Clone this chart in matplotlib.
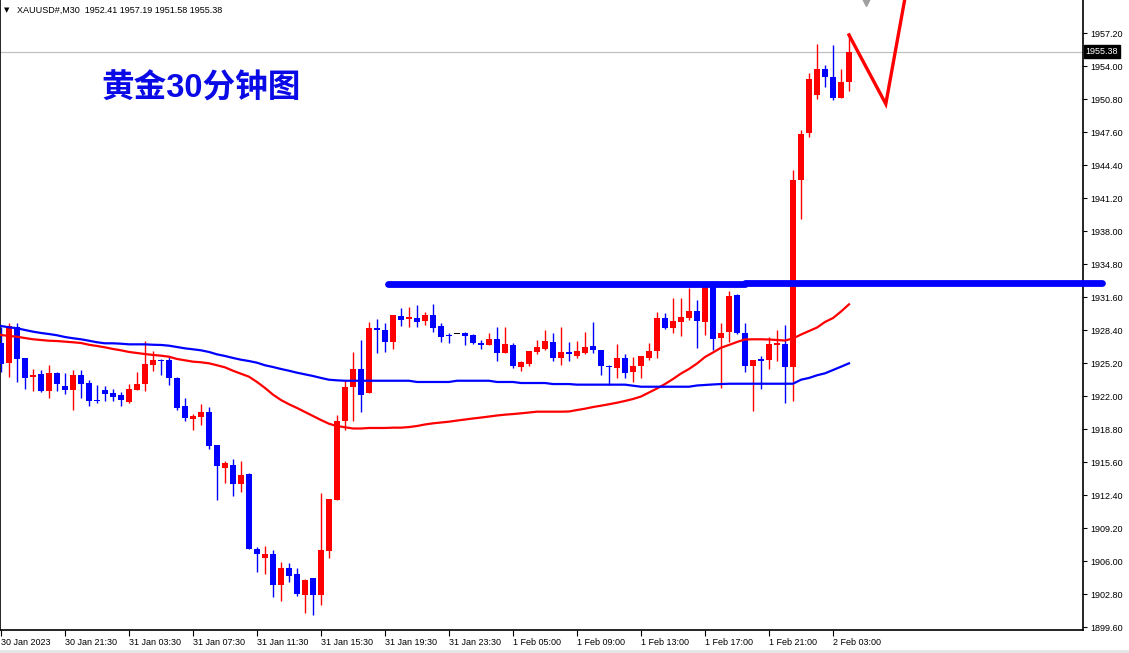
import numpy as np
import matplotlib.pyplot as plt
from matplotlib.patches import Rectangle

plt.rcParams['font.family'] = ['Liberation Sans', 'DejaVu Sans']

# XAUUSD M30 candles
opens = [1927.14, 1925.20, 1928.69, 1925.69, 1923.84, 1924.13, 1922.49, 1924.23, 1922.97, 1922.58,
         1924.04, 1923.26, 1921.61, 1922.58, 1922.29, 1922.10, 1921.42, 1922.58, 1923.16, 1925.01,
         1925.49, 1925.49, 1923.75, 1921.03, 1919.77, 1919.96, 1920.45, 1917.25, 1915.02, 1915.31,
         1913.47, 1914.44, 1907.16, 1906.29, 1906.68, 1903.67, 1905.32, 1904.74, 1902.70, 1904.35,
         1902.70, 1906.97, 1911.92, 1919.58, 1922.87, 1924.62, 1922.29, 1928.59, 1928.40, 1927.24,
         1929.76, 1929.47, 1929.56, 1929.27, 1929.85, 1928.79, 1927.92, 1928.01, 1928.11, 1927.92,
         1927.14, 1926.95, 1927.53, 1926.17, 1926.95, 1924.81, 1925.10, 1926.27, 1926.56, 1927.24,
         1925.69, 1926.27, 1925.88, 1926.17, 1926.85, 1926.46, 1924.91, 1924.72, 1925.69, 1924.33,
         1924.91, 1925.69, 1926.36, 1929.56, 1928.59, 1929.18, 1929.56, 1930.24, 1929.18, 1932.57,
         1927.62, 1928.21, 1931.79, 1928.11, 1924.91, 1925.59, 1925.49, 1926.95, 1927.04, 1924.81,
         1942.95, 1947.50, 1951.19, 1953.71, 1952.93, 1950.90, 1952.41]
highs = [1928.69, 1929.08, 1929.08, 1925.69, 1924.62, 1924.52, 1925.01, 1924.33, 1924.23, 1924.52,
         1924.52, 1923.55, 1923.07, 1922.97, 1922.68, 1922.39, 1923.16, 1924.33, 1927.33, 1926.36,
         1925.59, 1925.78, 1923.84, 1921.81, 1920.25, 1921.22, 1920.93, 1917.25, 1915.70, 1915.89,
         1915.70, 1914.53, 1907.36, 1907.45, 1907.07, 1905.90, 1905.81, 1905.32, 1904.25, 1904.35,
         1912.59, 1912.01, 1920.16, 1923.55, 1926.27, 1927.43, 1929.18, 1929.47, 1929.08, 1929.85,
         1930.53, 1930.63, 1930.82, 1930.15, 1930.92, 1929.08, 1928.11, 1928.01, 1928.21, 1928.01,
         1927.43, 1928.11, 1928.69, 1928.69, 1927.14, 1925.39, 1926.36, 1927.43, 1928.40, 1928.11,
         1928.69, 1927.24, 1927.33, 1928.21, 1929.18, 1926.46, 1925.01, 1927.04, 1926.07, 1925.78,
         1925.88, 1927.14, 1930.15, 1930.05, 1931.50, 1931.50, 1932.47, 1931.31, 1932.96, 1932.96,
         1929.08, 1932.18, 1931.89, 1929.08, 1925.49, 1925.88, 1927.72, 1928.40, 1928.89, 1943.92,
         1947.79, 1953.32, 1956.13, 1954.10, 1956.04, 1953.71, 1957.19]
lows = [1924.33, 1923.84, 1923.36, 1922.68, 1922.49, 1922.39, 1921.81, 1922.49, 1922.19, 1920.64,
        1921.81, 1921.03, 1921.32, 1921.52, 1921.52, 1921.03, 1921.32, 1922.58, 1922.49, 1924.42,
        1924.04, 1923.07, 1920.64, 1919.58, 1918.70, 1919.19, 1916.86, 1911.92, 1913.56, 1912.30,
        1912.69, 1907.16, 1904.93, 1904.74, 1902.51, 1902.12, 1903.96, 1902.61, 1900.96, 1900.76,
        1901.73, 1906.29, 1911.92, 1918.70, 1919.58, 1920.45, 1922.29, 1926.17, 1926.27, 1926.56,
        1928.79, 1928.69, 1928.69, 1928.89, 1928.21, 1927.24, 1927.14, 1928.01, 1926.95, 1927.04,
        1926.56, 1926.95, 1925.39, 1926.17, 1924.72, 1924.42, 1924.91, 1926.07, 1926.46, 1925.39,
        1925.01, 1925.39, 1925.69, 1926.07, 1926.17, 1924.04, 1923.07, 1923.75, 1923.75, 1923.36,
        1923.75, 1925.49, 1925.69, 1928.50, 1928.11, 1927.82, 1929.37, 1926.65, 1927.92, 1926.46,
        1922.78, 1927.24, 1928.01, 1924.33, 1920.55, 1922.68, 1924.62, 1925.39, 1921.32, 1921.52,
        1939.16, 1947.12, 1950.80, 1951.96, 1950.70, 1950.90, 1951.58]
closes = [1925.10, 1928.79, 1925.59, 1923.75, 1924.04, 1922.49, 1924.23, 1923.16, 1922.58, 1924.04,
          1923.16, 1921.52, 1921.52, 1922.19, 1921.90, 1921.61, 1922.68, 1923.16, 1925.10, 1925.49,
          1925.39, 1923.75, 1920.84, 1919.87, 1920.06, 1920.45, 1917.15, 1915.21, 1915.50, 1913.47,
          1914.34, 1907.16, 1906.68, 1906.68, 1903.67, 1905.32, 1904.55, 1902.80, 1904.16, 1902.70,
          1907.07, 1912.01, 1919.58, 1922.87, 1924.62, 1922.10, 1928.59, 1928.40, 1927.24, 1929.85,
          1929.37, 1929.66, 1929.18, 1929.85, 1928.59, 1927.72, 1927.82, 1928.01, 1927.82, 1927.14,
          1926.95, 1927.53, 1926.17, 1927.04, 1924.91, 1925.30, 1926.36, 1926.75, 1927.33, 1925.69,
          1926.27, 1926.07, 1926.36, 1926.75, 1926.46, 1924.91, 1924.81, 1925.69, 1924.23, 1924.91,
          1925.88, 1926.36, 1929.56, 1928.59, 1929.27, 1929.66, 1930.24, 1929.27, 1932.57, 1927.53,
          1928.11, 1931.70, 1928.11, 1924.91, 1925.49, 1925.39, 1927.04, 1927.14, 1924.81, 1942.95,
          1947.41, 1952.74, 1953.71, 1952.93, 1950.90, 1952.45, 1955.38]

ma_red = [1927.92, 1927.82, 1927.75, 1927.62, 1927.50, 1927.43, 1927.36, 1927.33, 1927.27, 1927.21,
          1927.14, 1926.97, 1926.85, 1926.72, 1926.56, 1926.43, 1926.27, 1926.17, 1926.07, 1925.98,
          1925.91, 1925.81, 1925.59, 1925.46, 1925.33, 1925.27, 1925.17, 1924.98, 1924.78, 1924.45,
          1924.16, 1923.87, 1923.36, 1922.78, 1922.13, 1921.61, 1921.20, 1920.84, 1920.45, 1920.06,
          1919.67, 1919.31, 1919.09, 1918.97, 1918.85, 1918.85, 1918.90, 1918.90, 1918.90, 1918.93,
          1918.93, 1918.99, 1919.09, 1919.24, 1919.35, 1919.43, 1919.51, 1919.62, 1919.72, 1919.82,
          1919.91, 1920.01, 1920.11, 1920.19, 1920.25, 1920.32, 1920.40, 1920.48, 1920.48, 1920.48,
          1920.48, 1920.50, 1920.64, 1920.77, 1920.93, 1921.06, 1921.20, 1921.35, 1921.52, 1921.71,
          1921.95, 1922.34, 1922.73, 1923.16, 1923.65, 1924.18, 1924.62, 1925.15, 1925.78, 1926.22,
          1926.68, 1926.95, 1927.24, 1927.48, 1927.50, 1927.50, 1927.48, 1927.43, 1927.38, 1927.58,
          1927.96, 1928.30, 1928.64, 1929.18, 1929.56, 1930.19, 1930.89]
ma_blue = [1928.79, 1928.66, 1928.57, 1928.40, 1928.24, 1928.11, 1928.01, 1927.89, 1927.72, 1927.60,
           1927.50, 1927.36, 1927.21, 1927.11, 1927.11, 1927.07, 1927.01, 1927.01, 1927.01, 1926.97,
           1926.95, 1926.88, 1926.75, 1926.62, 1926.53, 1926.43, 1926.27, 1926.04, 1925.88, 1925.69,
           1925.52, 1925.39, 1925.23, 1924.98, 1924.81, 1924.62, 1924.45, 1924.26, 1924.10, 1923.94,
           1923.75, 1923.58, 1923.52, 1923.48, 1923.48, 1923.48, 1923.48, 1923.48, 1923.48, 1923.48,
           1923.48, 1923.48, 1923.36, 1923.36, 1923.36, 1923.36, 1923.36, 1923.48, 1923.48, 1923.48,
           1923.48, 1923.48, 1923.36, 1923.36, 1923.36, 1923.26, 1923.26, 1923.26, 1923.26, 1923.16,
           1923.16, 1923.16, 1923.10, 1923.10, 1923.10, 1923.10, 1923.10, 1923.10, 1923.10, 1923.00,
           1922.90, 1922.90, 1922.90, 1922.90, 1922.90, 1922.90, 1922.90, 1923.02, 1923.07, 1923.12,
           1923.16, 1923.19, 1923.19, 1923.19, 1923.19, 1923.19, 1923.19, 1923.19, 1923.19, 1923.19,
           1923.58, 1923.75, 1924.01, 1924.20, 1924.52, 1924.84, 1925.17]

date_labels = ['30 Jan 2023', '30 Jan 21:30', '31 Jan 03:30', '31 Jan 07:30', '31 Jan 11:30',
               '31 Jan 15:30', '31 Jan 19:30', '31 Jan 23:30', '1 Feb 05:00', '1 Feb 09:00',
               '1 Feb 13:00', '1 Feb 17:00', '1 Feb 21:00', '2 Feb 03:00']

# hand-drawn annotations (bar index, price)
level_line = [(48.4, 93.0, 1932.83), (93.0, 137.6, 1932.93)]
arrow_pts = [(106.0, 1957.01), (110.6, 1950.32), (113.0, 1960.6)]
last_price = 1955.38

o = np.array(opens); h = np.array(highs); l = np.array(lows); c = np.array(closes)
idx = np.arange(len(o))
colors = np.where(c > o, '#ff0000', np.where(c < o, '#0000ff', '#000000'))

fig = plt.figure(figsize=(11.29, 6.53), dpi=100)
ax = fig.add_axes([0.0, 23 / 653, 1083 / 1129, 630 / 653])
ax.set_xlim(-0.125, 135.25)
ax.set_ylim(1899.31, 1960.40)

ax.axhline(last_price, color='#c0c0c0', lw=0.9, zorder=1)

ax.vlines(idx, l, h, colors=colors, lw=1.0, zorder=2)
ax.bar(idx, np.maximum(np.abs(c - o), 0.1), bottom=np.minimum(o, c), width=0.64,
       color=colors, linewidth=0, zorder=3)

ax.plot(idx, ma_red, color='#ff0000', lw=1.6, zorder=4)
ax.plot(idx, ma_blue, color='#0000ff', lw=1.6, zorder=4)

for x0, x1, y in level_line:
    ax.plot([x0, x1], [y, y], color='#0000ff', lw=4.9, solid_capstyle='round',
            clip_on=False, zorder=5)

ax.plot([p[0] for p in arrow_pts], [p[1] for p in arrow_pts], color='#ff0000', lw=2.4,
        solid_joinstyle='miter', zorder=6)
ax.plot([108.1], [1960.2], marker='v', ms=6, color='#a0a0a0', clip_on=False, zorder=6)

# axes styling, MT4 look
ax.spines['top'].set_visible(False)
for s in ['left', 'right', 'bottom']:
    ax.spines[s].set_color('black')
    ax.spines[s].set_linewidth(1.2)

ax.yaxis.tick_right()
yt = [1899.60 + 3.2 * k for k in range(19)]
ax.set_yticks(yt)
ax.set_yticklabels(['%.2f' % v for v in yt])
ax.set_xticks(np.arange(len(date_labels)) * 8)
ax.set_xticklabels(date_labels, ha='left')
ax.tick_params(axis='y', direction='out', length=3, width=0.8, pad=2, labelsize=6.5)
ax.tick_params(axis='x', direction='out', length=4, width=0.8, pad=1.5, labelsize=6.5)

ax.text(1.0025, last_price, '%.2f' % last_price, transform=ax.get_yaxis_transform(),
        color='white', fontsize=6.5, ha='left', va='center',
        bbox=dict(boxstyle='square,pad=0.2', fc='black', ec='black'), clip_on=False, zorder=7)

fig.text(4 / 1129, 1 - 10 / 653, '\u25bc', fontsize=5, va='center', ha='left',
         family='DejaVu Sans')
fig.text(17 / 1129, 1 - 10 / 653, 'XAUUSD#,M30  1952.41 1957.19 1951.58 1955.38',
         fontsize=6.5, va='center', ha='left')

fig.text(101 / 1129, 1 - 89 / 653, '黄金30分钟图', fontsize=23.5, fontweight='bold',
         color='#0a0ae6', va='center', ha='left',
         family=['Liberation Sans', 'Noto Sans CJK SC'])

fig.patches.append(Rectangle((0, 0), 1, 3 / 653, transform=fig.transFigure,
                             fc='#e6e6e6', ec='none'))

fig.savefig('out.png', dpi=100)
